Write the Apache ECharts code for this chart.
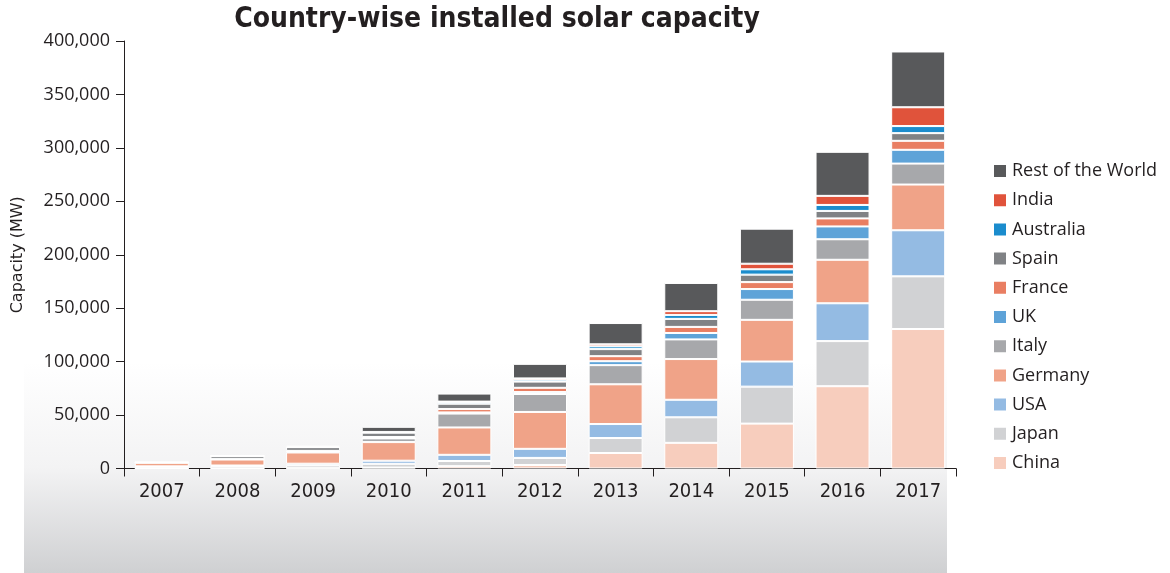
<!DOCTYPE html>
<html>
<head>
<meta charset="utf-8">
<script src="https://cdn.jsdelivr.net/npm/echarts@6/dist/echarts.min.js"></script>
<style>
html,body{margin:0;padding:0;background:#fff;}
#chart{width:1170px;height:573px;}
</style>
</head>
<body>
<div id="chart"></div>
<script>
const years = ['2007','2008','2009','2010','2011','2012','2013','2014','2015','2016','2017'];
const yTicks = [0, 50000, 100000, 150000, 200000, 250000, 300000, 350000, 400000];

const china     = [100, 100, 300, 900, 2200, 3300, 14500, 24000, 42000, 77000, 130500];
const japan     = [1500, 1900, 2600, 3500, 4800, 6600, 14000, 23900, 34600, 42200, 49300];
const usa       = [400, 800, 1600, 2900, 5800, 8500, 13100, 16400, 23500, 35400, 43100];
const germany   = [3400, 5600, 10500, 17400, 25600, 34500, 37200, 38100, 39000, 40700, 42800];
const italy     = [100, 500, 1200, 3500, 13000, 16800, 17900, 18400, 18800, 19200, 19600];
const uk        = [0, 0, 0, 100, 1100, 1800, 3700, 6000, 10000, 12000, 12900];
const france    = [0, 100, 300, 1200, 3100, 4000, 4700, 5700, 6500, 7500, 8400];
const spain     = [300, 2600, 3500, 4000, 5000, 5800, 6600, 7500, 7000, 7000, 7200];
const australia = [0, 100, 200, 600, 1400, 1800, 2600, 3700, 5000, 5600, 6600];
const india     = [0, 0, 0, 100, 600, 1200, 1900, 3500, 5200, 8500, 17600];
const restWorld = [200, 300, 1200, 4800, 7500, 13600, 19900, 26400, 32800, 41200, 52200];

const seriesDefs = [
  ['China', china, '#f7cdbd'],
  ['Japan', japan, '#d1d2d4'],
  ['USA', usa, '#94bbe3'],
  ['Germany', germany, '#f0a388'],
  ['Italy', italy, '#a7a8ab'],
  ['UK', uk, '#5ea3d8'],
  ['France', france, '#e97e62'],
  ['Spain', spain, '#808285'],
  ['Australia', australia, '#1b8ccd'],
  ['India', india, '#e0533b'],
  ['Rest of the World', restWorld, '#58595b']
];

const labelFont = "'Open Sans', 'Liberation Sans', sans-serif";
const narrowFont = "'DejaVu Sans Condensed', 'Open Sans', sans-serif";

const chart = echarts.init(document.getElementById('chart'), null, {renderer: 'canvas'});
chart.setOption({
  animation: false,
  backgroundColor: '#ffffff',
  title: {
    text: 'Country-wise installed solar capacity',
    left: 497, top: 6, textAlign: 'center', padding: 0,
    textStyle: {fontFamily: narrowFont, fontWeight: 'bold', fontSize: 28, color: '#231f20'}
  },
  graphic: [{
    type: 'rect', z: 0, silent: true,
    shape: {x: 24, y: 362, width: 923, height: 211},
    style: {fill: new echarts.graphic.LinearGradient(0, 0, 0, 1, [
      {offset: 0, color: '#ffffff'},
      {offset: 0.5, color: '#f3f3f4'},
      {offset: 1, color: '#cfd0d2'}
    ])}
  }],
  legend: {
    orient: 'vertical', left: 992, top: 162, padding: 0,
    itemWidth: 14, itemHeight: 14, itemGap: 11.2, icon: 'rect',
    data: seriesDefs.map(d => d[0]).reverse(),
    textStyle: {fontFamily: labelFont, fontSize: 18, color: '#231f20'}
  },
  grid: {left: 124, right: 214, top: 41, bottom: 104.5, containLabel: false},
  xAxis: {
    type: 'category', data: years,
    axisLine: {lineStyle: {color: '#231f20', width: 1}},
    axisTick: {show: true, length: 8, lineStyle: {color: '#231f20'}},
    axisLabel: {fontFamily: narrowFont, fontSize: 20, color: '#231f20', margin: 13}
  },
  yAxis: {
    type: 'value', min: yTicks[0], max: yTicks[yTicks.length-1], interval: yTicks[1]-yTicks[0],
    name: 'Capacity (MW)', nameLocation: 'middle', nameGap: 98,
    nameTextStyle: {fontFamily: "'DejaVu Sans', sans-serif", fontSize: 16, color: '#231f20'},
    axisLine: {show: true, lineStyle: {color: '#231f20', width: 1}},
    axisTick: {show: true, length: 8, lineStyle: {color: '#231f20'}},
    splitLine: {show: false},
    axisLabel: {fontFamily: labelFont, fontSize: 18, color: '#231f20', margin: 14,
      formatter: v => v.toLocaleString('en-US')}
  },
  series: seriesDefs.map(d => ({
    name: d[0], type: 'bar', stack: 'total', data: d[1], barWidth: 54,
    itemStyle: {color: d[2], borderColor: '#ffffff', borderWidth: 1},
    emphasis: {disabled: true}
  }))
});
</script>
</body>
</html>
